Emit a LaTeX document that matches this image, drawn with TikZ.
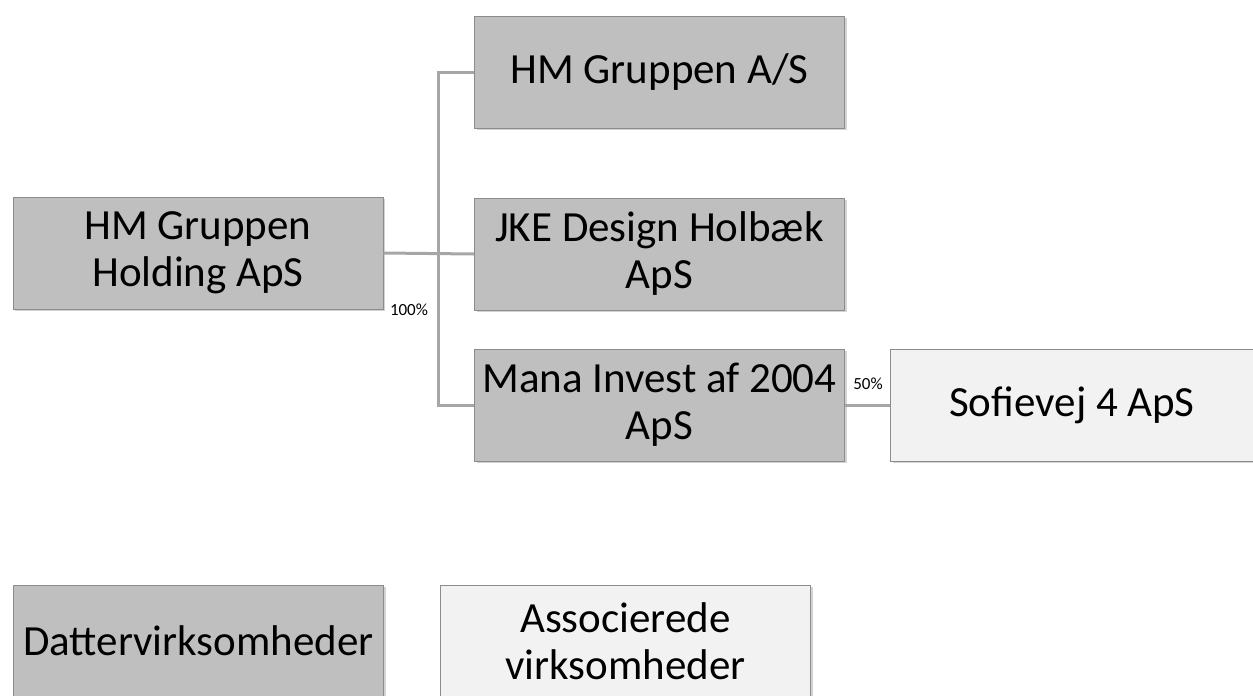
\documentclass[tikz,border=0pt]{standalone}
\usepackage{fontspec}
\setmainfont{Carlito}
\usetikzlibrary{positioning,shadows}
\definecolor{subfill}{HTML}{BFBFBF}
\definecolor{assocfill}{HTML}{F2F2F2}
\definecolor{boxline}{HTML}{8C8C8C}
\definecolor{linkgray}{HTML}{A6A6A6}

\begin{document}
\begin{tikzpicture}[x=1pt, y=-1pt, node distance=37pt,
  firm/.style = {draw=boxline, line width=1pt, fill=subfill, minimum width=370pt, minimum height=112pt, inner sep=0pt, align=center, font=\fontsize{43}{47}\selectfont, drop shadow={shadow xshift=2pt, shadow yshift=-2pt, opacity=0.35}},
  assoc/.style = {firm, fill=assocfill},
  link/.style = {draw=linkgray, line width=3pt},
  pct/.style = {inner sep=0pt, font=\fontsize{17}{17}\selectfont}]
\useasboundingbox (0,0) rectangle (1253,696);

\node[firm] (holding) at (198,253) {HM Gruppen\\Holding ApS};
\node[firm] (gruppen) at (659.5,72) {HM Gruppen A/S};
\node[firm] (jke) [below=69pt of gruppen] {JKE Design Holbæk\\ApS};
\node[firm] (mana) [below=38pt of jke] {Mana Invest af 2004\\ApS};
\node[assoc, minimum width=363pt] (sofie) [right=45pt of mana] {Sofievej 4 ApS};

\node[firm] (datter) at (198.5,641) {Dattervirksomheder};
\node[assoc] (assocbox) [right=56pt of datter] {Associerede\\virksomheder};

\node[pct] (p100) at (409,310) {100\%};
\node[pct] (p50) at (868,384) {50\%};

\draw[link] (holding.east) -- (jke.west);
\draw[link] (gruppen.west) -- ++(-36,0) |- (mana.west);
\draw[link] (mana.east) -- (sofie.west);

\end{tikzpicture}
\end{document}
